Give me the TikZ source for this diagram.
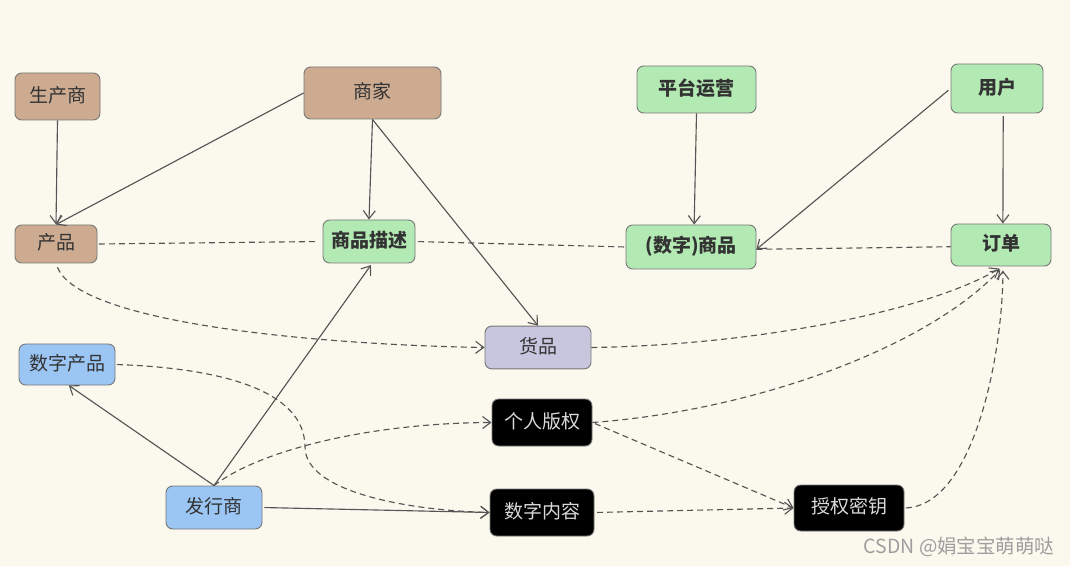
\documentclass[tikz,border=0pt]{standalone}
\usepackage{fontspec}
\setmainfont{Noto Sans CJK SC}
\usetikzlibrary{arrows.meta}

\definecolor{paper}{HTML}{FBF9EE}
\definecolor{brownfill}{HTML}{CCAB91}
\definecolor{greenfill}{HTML}{B3EAB3}
\definecolor{bluefill}{HTML}{9BC5F3}
\definecolor{greyfill}{HTML}{C8C6DE}
\definecolor{inkline}{HTML}{555555}
\definecolor{inktext}{HTML}{333333}

\tikzset{
  box/.style={draw=inkline!80,line width=.7pt,rounded corners=5pt,inner sep=0pt,text=inktext,text height=12pt,text depth=3.5pt,font=\fontsize{14.25}{17}\selectfont},
  flow/.style={line width=.85pt,inkline,-{Straight Barb[length=6pt,width=9pt]}},
  link/.style={line width=.85pt,inkline,dash pattern=on 4.5pt off 3pt},
  linkto/.style={link,-{Straight Barb[length=6pt,width=9pt]}}
}

\begin{document}
\begin{tikzpicture}[x=.75pt,y=-.75pt]
    \useasboundingbox[fill=paper] (0,0) rectangle (1070,566);

    \foreach \n/\x/\y/\w/\h/\t in {maker/57.5/96.5/85/47/生产商,merchant/372.5/93/137/52/商家,product/56/244/82/38/产品} {
    \node[box,fill=brownfill,minimum width=\w*.75pt,minimum height=\h*.75pt] (\n) at (\x,\y) {\t};}

    \foreach \n/\x/\y/\w/\h/\t in {platform/696.5/89.5/119/47/平台运营,user/997/88.5/92/49/用户,desc/369/241.5/92/43/商品描述,goods/691/247/130/44/(数字)商品,order/1001/245/100/42/订单} {
    \node[box,fill=greenfill,minimum width=\w*.75pt,minimum height=\h*.75pt,font=\fontsize{14.25}{17}\selectfont\bfseries] (\n) at (\x,\y) {\t};}

    \foreach \n/\x/\y/\w/\h/\t in {digital/67/364.5/96/41/数字产品,issuer/214/507.5/96/43/发行商} {
    \node[box,fill=bluefill,minimum width=\w*.75pt,minimum height=\h*.75pt] (\n) at (\x,\y) {\t};}

    \node[box,fill=greyfill,minimum width=79.5pt,minimum height=32pt] (item) at (538,347.5) {货品};

    \foreach \n/\x/\y/\w/\h/\t in {copyright/542/422.5/100/47/个人版权,content/542/512.5/104/47/数字内容,license/849/508/110/46/授权密钥} {
    \node[box,fill=black,text=white!85!black,minimum width=\w*.75pt,minimum height=\h*.75pt] (\n) at (\x,\y) {\t};}

    \node[text=black!38,font=\fontsize{14.6}{17}\selectfont,inner sep=0pt] (mark) at (959,547) {CSDN @娟宝宝萌萌哒};

    % solid arrows
    \draw[flow] (maker.south) -- (product.north);
    \draw[flow] (merchant.west) -- (product.north);
    \draw[flow] (merchant.south) -- (desc.north);
    \draw[flow] (merchant.south) -- (item.north);
    \draw[flow] (platform.south) -- (goods.82);
    \draw[flow,shorten <=2pt] (user.west) -- (goods.-2);
    \draw[flow,shorten <=2pt] (user.-76) -- (order.85);
    \draw[flow,shorten >=1.5pt] (issuer.north) -- (desc.-82);
    \draw[flow] (issuer.north) -- (digital.-85);
    \draw[flow,shorten <=1.5pt] (issuer.east) -- (content.west);

    % dashed links
    \draw[link,shorten <=1pt,shorten >=3pt] (product.east) -- (desc.west);
    \draw[link,shorten <=2pt] (desc.east) -- (goods.west);
    \draw[link] (goods.-2) -- (order.182);
    \draw[linkto,shorten <=3pt] (product.south) .. controls (80,325) and (330,345) .. (item.west);
    \draw[linkto,shorten >=3pt] (item.east) .. controls (760,345) and (930,310) .. (order.-85);
    \draw[linkto,shorten >=3pt] (copyright.east) .. controls (760,410) and (930,345) .. (order.-85);
    \draw[linkto,shorten <=1pt,shorten >=3pt] (license.east) .. controls (975,505) and (1003,350) .. (order.-85);
    \draw[linkto,shorten <=1pt] (digital.east) .. controls (220,368) and (305,390) .. (305,447) .. controls (305,490) and (400,510) .. (content.west);
    \draw[linkto] (issuer.north) .. controls (260,450) and (370,423) .. (copyright.west);
    \draw[linkto,shorten <=2pt] (content.east) -- (license.west);
    \draw[linkto,shorten <=2pt] (copyright.east) -- (license.west);
\end{tikzpicture}
\end{document}
